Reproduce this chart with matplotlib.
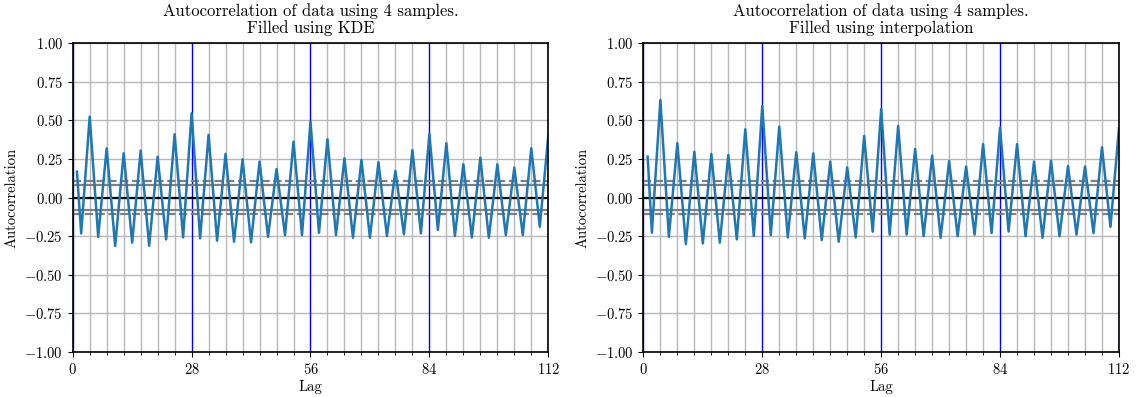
import numpy as np
import matplotlib
matplotlib.use("Agg")
import matplotlib.pyplot as plt
from matplotlib.ticker import MultipleLocator

plt.rcParams["font.family"] = ["cmr10", "DejaVu Serif"]
plt.rcParams["mathtext.fontset"] = "cm"
plt.rcParams["axes.formatter.use_mathtext"] = True

# lags where the curve turns (first lag, then troughs and peaks)
lags = [1] + list(range(2, 113, 2))

# autocorrelation, KDE filled data
acf_kde = [0.167,
           -0.232, 0.523, -0.254, 0.318, -0.314, 0.286, -0.292, 0.303,
           -0.312, 0.264, -0.271, 0.409, -0.258, 0.545,
           -0.264, 0.405, -0.279, 0.282, -0.286, 0.247, -0.290, 0.232,
           -0.254, 0.184, -0.243, 0.361, -0.243, 0.491,
           -0.228, 0.377, -0.243, 0.254, -0.260, 0.243, -0.260, 0.228,
           -0.249, 0.172, -0.238, 0.307, -0.232, 0.411,
           -0.210, 0.351, -0.249, 0.215, -0.258, 0.258, -0.260, 0.215,
           -0.243, 0.193, -0.243, 0.318, -0.189, 0.398]

# autocorrelation, interpolated data
acf_interp = [0.264,
              -0.228, 0.631, -0.254, 0.351, -0.301, 0.296, -0.297, 0.282,
              -0.292, 0.275, -0.271, 0.441, -0.249, 0.592,
              -0.243, 0.458, -0.258, 0.293, -0.264, 0.286, -0.275, 0.232,
              -0.286, 0.195, -0.258, 0.398, -0.221, 0.572,
              -0.240, 0.463, -0.240, 0.314, -0.250, 0.271, -0.260, 0.236,
              -0.250, 0.200, -0.240, 0.345, -0.230, 0.452,
              -0.220, 0.345, -0.250, 0.232, -0.260, 0.238, -0.250, 0.204,
              -0.240, 0.200, -0.230, 0.325, -0.190, 0.448]

n_samples = 600          # length of the series behind the confidence bands
period = 28
max_lag = 112
titles = ["Autocorrelation of data using 4 samples.\nFilled using KDE",
          "Autocorrelation of data using 4 samples.\nFilled using interpolation"]

z95 = 1.959963984540054
z99 = 2.5758293035489004

fig, axes = plt.subplots(1, 2, figsize=(11.36, 3.97), dpi=100)
fig.subplots_adjust(left=0.064, right=0.985, top=0.892, bottom=0.113, wspace=0.2)

for ax, acf, title in zip(axes, [acf_kde, acf_interp], titles):
    for v in range(0, max_lag + 1, period):
        ax.axvline(v, color="blue", lw=1.0, zorder=1)
    ax.plot(lags, acf, color="C0", lw=1.8, zorder=3)
    ax.axhline(z99 / np.sqrt(n_samples), ls="--", color="grey", lw=1.6, zorder=2)
    ax.axhline(z95 / np.sqrt(n_samples), color="grey", lw=1.6, zorder=2)
    ax.axhline(0.0, color="black", lw=1.6, zorder=2)
    ax.axhline(-z95 / np.sqrt(n_samples), color="grey", lw=1.6, zorder=2)
    ax.axhline(-z99 / np.sqrt(n_samples), ls="--", color="grey", lw=1.6, zorder=2)

    ax.set_xlim(0, max_lag)
    ax.set_ylim(-1, 1)
    ax.xaxis.set_major_locator(MultipleLocator(period))
    ax.xaxis.set_minor_locator(MultipleLocator(4))
    ax.yaxis.set_major_locator(MultipleLocator(0.25))
    ax.grid(True, which="major", axis="y", color="#b8b8b8", lw=1.0, zorder=0)
    ax.grid(True, which="minor", axis="x", color="#b8b8b8", lw=1.0, zorder=0)
    ax.set_axisbelow(True)
    for s in ax.spines.values():
        s.set_linewidth(1.2)
        s.set_zorder(5)
    ax.tick_params(labelsize=10.5)
    ax.set_xlabel("Lag", fontsize=10.5, labelpad=2)
    ax.set_ylabel("Autocorrelation", fontsize=10.5)
    ax.set_title(title, fontsize=12, linespacing=1.1, pad=7)

fig.savefig("out.png", dpi=100)
